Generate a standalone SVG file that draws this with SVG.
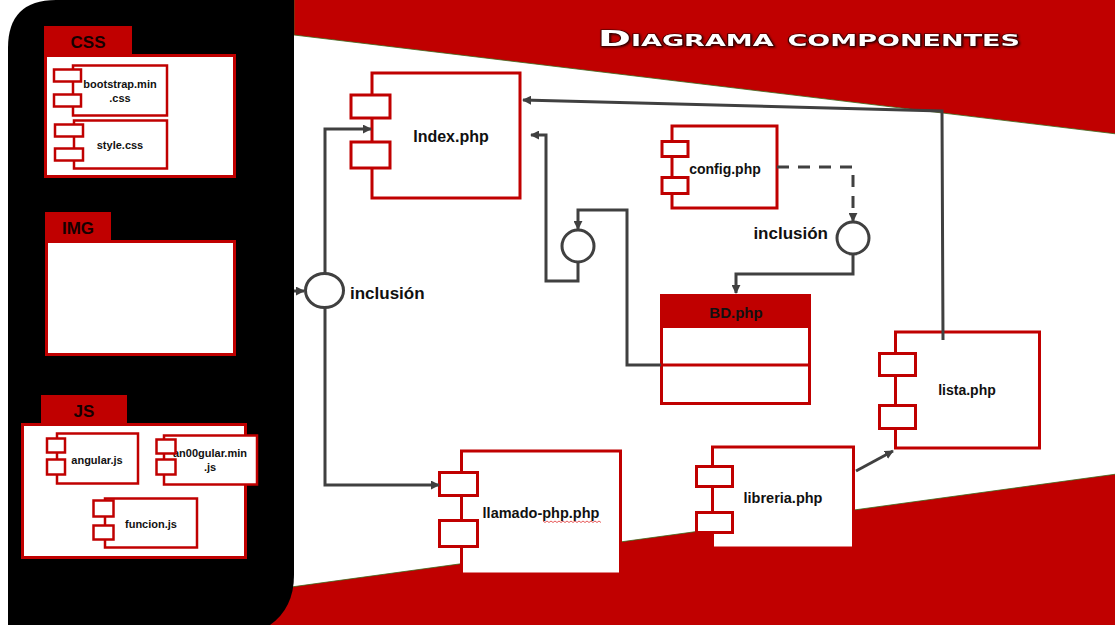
<svg xmlns="http://www.w3.org/2000/svg" width="1115" height="625" viewBox="0 0 1115 625">
<defs>
<marker id="arr" viewBox="0 0 10 10" refX="9" refY="5" markerWidth="9" markerHeight="9" markerUnits="userSpaceOnUse" orient="auto">
<path d="M0,0 L10,5 L0,10 Z" fill="#404040"/>
</marker>
<filter id="glow" x="-5%" y="-30%" width="110%" height="160%">
<feDropShadow dx="1" dy="1" stdDeviation="1.2" flood-color="#200000" flood-opacity="0.9"/>
</filter>
</defs>
<style>
.red{fill:#C00000}
.band{fill:#C00000;stroke:#3a6a1a;stroke-width:0.8}
.pkg{fill:#fff;stroke:#C00000;stroke-width:3}
.comp{fill:#fff;stroke:#C00000;stroke-width:3}
.scomp{fill:#fff;stroke:#C00000;stroke-width:2.5}
.port{fill:#fff;stroke:#C00000;stroke-width:3}
.sport{fill:#fff;stroke:#C00000;stroke-width:2.5}
.t{font-family:"Liberation Sans",Arial,sans-serif;font-weight:bold;fill:#111;text-anchor:middle}
.tab{font-family:"Liberation Sans",Arial,sans-serif;font-weight:bold;fill:#150000;text-anchor:middle}
.con{fill:none;stroke:#404040;stroke-width:3}
.iface{fill:#fff;stroke:#404040;stroke-width:3}
</style>

<!-- background -->
<rect x="0" y="0" width="1115" height="625" fill="#fff"/>
<polygon class="band" points="294,-2 1117,-2 1117,134 294,35"/>
<polygon class="band" points="240,594 1117,474 1117,627 240,627"/>
<path d="M8,48 Q8,0 56,0 L294,0 L294,575 Q294,608 270,625 L8,625 Z" fill="#000"/>

<text x="598" y="46" textLength="422" lengthAdjust="spacingAndGlyphs" filter="url(#glow)" style="font-family:'DejaVu Sans',sans-serif;font-weight:bold;font-size:22px;font-variant:small-caps;fill:#fff;stroke:#3a0000;stroke-width:1.2;paint-order:stroke">Diagrama componentes</text>

<!-- CSS package -->
<g id="pkg-css">
<rect class="red" x="44" y="26" width="88" height="29"/>
<text class="tab" x="88" y="48" font-size="17">CSS</text>
<rect class="pkg" x="45.5" y="55.5" width="189" height="121"/>
</g>
<g id="bootstrap">
<rect class="scomp" x="73" y="65.5" width="94" height="50"/>
<text class="t" x="120" y="88" font-size="11">bootstrap.min</text>
<text class="t" x="120" y="102" font-size="11">.css</text>
<rect class="sport" x="54" y="69.5" width="27" height="12"/>
<rect class="sport" x="54" y="94.5" width="27" height="12"/>
</g>
<g id="style-css">
<rect class="scomp" x="74" y="120.5" width="93" height="48"/>
<text class="t" x="120" y="149" font-size="11">style.css</text>
<rect class="sport" x="55" y="124.5" width="28" height="12"/>
<rect class="sport" x="55" y="148.5" width="28" height="12"/>
</g>

<!-- IMG package -->
<g id="pkg-img">
<rect class="red" x="45" y="212" width="66" height="29"/>
<text class="tab" x="78" y="234" font-size="17">IMG</text>
<rect class="pkg" x="46.5" y="241.5" width="188" height="113"/>
</g>

<!-- JS package -->
<g id="pkg-js">
<rect class="red" x="41" y="395" width="86" height="29"/>
<text class="tab" x="84" y="417" font-size="17">JS</text>
<rect class="pkg" x="22.5" y="424.5" width="223" height="133"/>
</g>
<g id="angular">
<rect class="scomp" x="57" y="433.5" width="81" height="50"/>
<text class="t" x="97" y="464" font-size="11">angular.js</text>
<rect class="sport" x="47" y="438.5" width="18" height="14"/>
<rect class="sport" x="47" y="459.5" width="18" height="15"/>
</g>
<g id="an00gular">
<rect class="scomp" x="164" y="435.5" width="93" height="49"/>
<text class="t" x="210" y="457" font-size="11">an00gular.min</text>
<text class="t" x="210" y="471" font-size="11">.js</text>
<rect class="sport" x="156.5" y="439.5" width="19" height="14"/>
<rect class="sport" x="156.5" y="459.5" width="19" height="15"/>
</g>
<g id="funcion">
<rect class="scomp" x="105" y="498.5" width="92" height="49"/>
<text class="t" x="151" y="528" font-size="11">funcion.js</text>
<rect class="sport" x="93.5" y="500.5" width="20" height="16"/>
<rect class="sport" x="93.5" y="525.5" width="20" height="14"/>
</g>

<!-- components -->
<g id="index">
<rect class="comp" x="372" y="73" width="148" height="125"/>
<text class="t" x="451" y="142" font-size="16">Index.php</text>
<rect class="port" x="351" y="95" width="39" height="23"/>
<rect class="port" x="351" y="142" width="39" height="26"/>
</g>
<g id="config">
<rect class="comp" x="672" y="126" width="105" height="82"/>
<text class="t" x="725" y="174" font-size="14">config.php</text>
<rect class="port" x="662" y="141.5" width="26" height="15"/>
<rect class="port" x="662" y="177.5" width="26" height="16"/>
</g>
<g id="bd">
<rect class="red" x="660" y="294" width="151" height="33"/>
<text class="t" x="736" y="318" font-size="15">BD.php</text>
<rect class="comp" x="661.5" y="326.5" width="148" height="77"/>
<line x1="661" y1="365" x2="810" y2="365" stroke="#C00000" stroke-width="3"/>
</g>
<g id="lista">
<rect class="comp" x="895.5" y="332" width="144" height="116"/>
<text class="t" x="967" y="395" font-size="14">lista.php</text>
<rect class="port" x="879.5" y="353.5" width="36" height="22"/>
<rect class="port" x="879.5" y="405.5" width="36" height="23"/>
</g>
<g id="llamado">
<rect class="comp" x="461.5" y="451" width="159" height="123"/>
<text class="t" x="541" y="518" font-size="14.5">llamado-php.php</text>
<path d="M543,521 l2,1.5 l2,-1.5 l2,1.5 l2,-1.5 l2,1.5 l2,-1.5 l2,1.5 l2,-1.5 l2,1.5 l2,-1.5 l2,1.5 l2,-1.5 l2,1.5 l2,-1.5 l2,1.5 l2,-1.5 l2,1.5 l2,-1.5 l2,1.5 l2,-1.5 l2,1.5 l2,-1.5 l2,1.5 l2,-1.5 l2,1.5 l2,-1.5 l2,1.5 l2,-1.5 l2,1.5" fill="none" stroke="#e03030" stroke-width="0.8"/>
<rect class="port" x="439.5" y="472.5" width="38" height="23"/>
<rect class="port" x="439.5" y="520.5" width="38" height="26"/>
</g>
<g id="libreria">
<rect class="comp" x="712.5" y="447" width="141" height="101"/>
<text class="t" x="783" y="503" font-size="14.5">libreria.php</text>
<rect class="port" x="696.5" y="466.5" width="36" height="20"/>
<rect class="port" x="696.5" y="512.5" width="36" height="20"/>
</g>

<!-- connectors -->
<g id="connectors">
<path class="con" d="M294,291 L304,291" marker-end="url(#arr)"/>
<path class="con" d="M325,274 L325,129 L371,129" marker-end="url(#arr)"/>
<path class="con" d="M325,308 L325,485 L439,485" marker-end="url(#arr)"/>
<path class="con" d="M578,262 L578,281 L546,281 L546,135 L531,135" marker-end="url(#arr)"/>
<path class="con" d="M661,365 L627,365 L627,210 L578,210 L578,229" marker-end="url(#arr)"/>
<path class="con" d="M777,167 L853,167 L853,221" stroke-dasharray="12,9" marker-end="url(#arr)"/>
<path class="con" d="M853,254 L853,274 L736,274 L736,293" marker-end="url(#arr)"/>
<path class="con" d="M943,340 L942,111 L523,100" marker-end="url(#arr)"/>
<path class="con" d="M856,471 L893,451" marker-end="url(#arr)"/>
</g>

<!-- interfaces -->
<g id="inclusion-1">
<ellipse class="iface" cx="324.5" cy="290.5" rx="19" ry="17"/>
<text class="t" x="350" y="299" font-size="17" style="text-anchor:start">inclusión</text>
</g>
<g id="inclusion-2">
<circle class="iface" cx="578" cy="246" r="16"/>
</g>
<g id="inclusion-3">
<circle class="iface" cx="853" cy="238" r="16"/>
<text class="t" x="828" y="239" font-size="17" style="text-anchor:end">inclusión</text>
</g>
</svg>
